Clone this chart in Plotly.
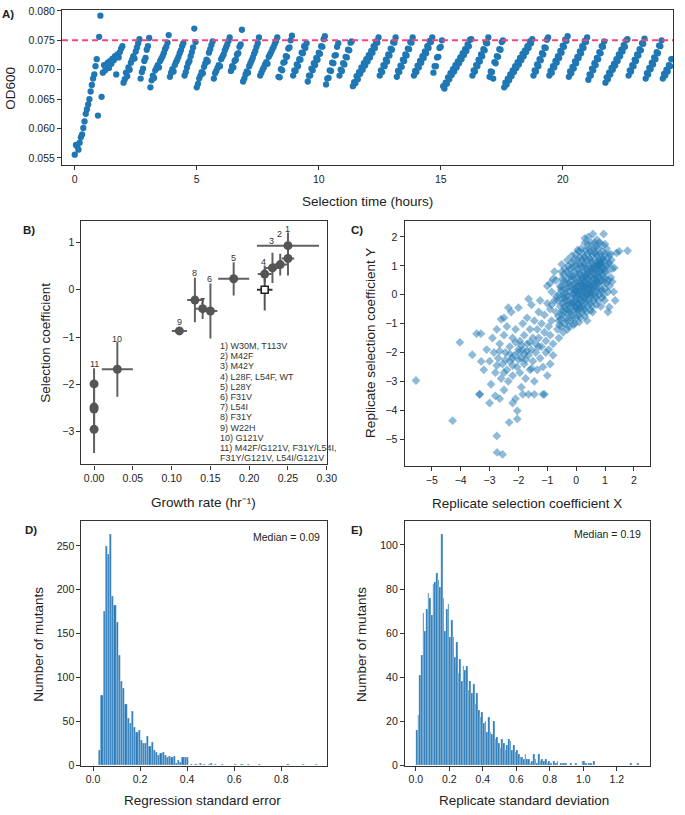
import numpy as np
import plotly.graph_objects as go

W, H = 685, 815
FONT = "Liberation Sans, Arial, Helvetica, sans-serif"

# ---------------- Panel A: OD600 over selection time ----------------
SAMPLE_INTERVAL_H = 0.05
OD_THRESHOLD = 0.075
# OD600 readings in units of 1e-5
od600_e5 = [
    5555, 5720, 5700, 5640, 5760, 5850, 5900, 6010, 6120, 6250, 6330, 6410, 6500, 6630, 6740, 6850, 6920, 7060, 7180, 6220, 7560, 7920, 6540,
    6950, 7080, 6990, 7050, 7120, 7030, 7150, 7100, 7190, 7160, 7230, 6920, 7260, 7210, 7300, 7360, 7400,
    6780, 6840, 6950, 6890, 7040, 7000, 7120, 7170, 7230, 7190, 7310, 7380, 7450, 7520,
    6850, 6960, 7020, 7150, 7200, 7340, 7400, 7540,
    6700, 6820, 6900, 6860, 6990, 7030, 7080, 7040, 7150, 7190, 7230, 7280, 7350, 7390, 7460, 7590,
    6880, 6950, 7010, 6970, 7080, 7130, 7170, 7220, 7280, 7330, 7400, 7450,
    6900, 6960, 7040, 7110, 7150, 7230, 7300, 7380, 7700, 7470,
    6700, 6760, 6850, 6900, 6960, 6940, 7050, 7110, 7170, 7140, 7290, 7350, 7420, 7480,
    6850, 6940, 6980, 7030, 7080, 7060, 7180, 7220, 7260, 7330, 7380, 7430, 7490, 7550,
    6980, 7060, 7040, 7150, 7170, 7260, 7280, 7390, 7430, 7680,
    6800, 6850, 6920, 6970, 6950, 7060, 7110, 7160, 7210, 7270, 7320, 7390, 7450, 7550,
    6900, 6950, 7000, 7040, 7090, 7130, 7100, 7220, 7260, 7300, 7350, 7390, 7440, 7490, 7550,
    6880, 6870, 7010, 6990, 7120, 7130, 7230, 7220, 7360, 7380, 7500, 7580,
    6900, 6990, 6980, 7090, 7060, 7180, 7170, 7290, 7280, 7400, 7370, 7450,
    6800, 6900, 6900, 7020, 6990, 7110, 7080, 7200, 7170, 7290, 7270, 7400, 7390, 7520, 7570,
    6750, 6850, 6860, 6990, 6980, 7120, 7110, 7240, 7250, 7390, 7450,
    6900, 7000, 6980, 7110, 7090, 7220, 7210, 7340, 7330, 7460, 7480,
    6720, 6790, 6770, 6890, 6840, 6960, 6930, 7040, 7000, 7110, 7070, 7180, 7140, 7250, 7210, 7320, 7290, 7400, 7370, 7480, 7460, 7550,
    6900, 6990, 6960, 7080, 7060, 7170, 7140, 7260, 7240, 7360, 7340, 7470, 7460, 7550,
    6880, 6980, 6960, 7070, 7050, 7170, 7150, 7260, 7240, 7360, 7350, 7470, 7460, 7550,
    6900, 6980, 6960, 7070, 7040, 7150, 7120, 7230, 7200, 7310, 7280, 7400, 7370, 7490, 7470, 7550,
    6950, 7060, 7060, 7210, 7220, 7370, 7390, 7500,
    6720, 6680, 6780, 6760, 6870, 6840, 6940, 6910, 7010, 6970, 7080, 7040, 7140, 7110, 7210, 7180, 7280, 7250, 7350, 7320, 7430, 7400, 7510, 7520,
    6900, 6990, 6970, 7080, 7060, 7170, 7140, 7260, 7230, 7350, 7330, 7460, 7450, 7550,
    6880, 6970, 6960, 6850, 7130, 7110, 7230, 7220, 7350, 7340, 7470, 7500,
    6700, 6780, 6750, 6850, 6820, 6920, 6890, 6990, 6960, 7060, 7030, 7130, 7090, 7200, 7160, 7270, 7230, 7330, 7300, 7400, 7370, 7480, 7450, 7520,
    6900, 6990, 6970, 7090, 7060, 7180, 7160, 7280, 7260, 7380, 7370, 7510, 7550,
    6900, 6980, 6950, 7060, 7040, 7150, 7120, 7230, 7200, 7320, 7290, 7410, 7390, 7510, 7490, 7570,
    6880, 6970, 6940, 7050, 7020, 7140, 7110, 7220, 7200, 7310, 7280, 7400, 7370, 7490, 7470, 7550,
    6830, 6920, 6900, 7020, 6990, 7110, 7080, 7200, 7180, 7300, 7280, 7400, 7390, 7480,
    6780, 6870, 6840, 6950, 6920, 7030, 7000, 7100, 7070, 7180, 7150, 7260, 7230, 7340, 7310, 7420, 7390, 7500, 7520,
    6900, 6990, 6970, 7080, 7060, 7170, 7150, 7260, 7240, 7350, 7330, 7450, 7440, 7530,
    6850, 6940, 6920, 7030, 7010, 7120, 7090, 7210, 7180, 7300, 7280, 7410, 7400, 7500,
    6850, 6930, 6900, 7000, 6970, 7080, 7060, 7180, 7180,
]

# ---------------- Panel B: selection coefficient vs growth rate ----------------
growth_rate     = [0.25, 0.25, 0.24, 0.23, 0.22, 0.18, 0.15, 0.14, 0.13, 0.11, 0.03, 0.0, 0.0, 0.0, 0.0]
growth_rate_err = [0.04, 0.008, 0.009, 0.009, 0.009, 0.02, 0.009, 0.01, 0.01, 0.0097, 0.02, 0.002, 0.002, 0.002, 0.002]
sel_coef        = [0.93, 0.66, 0.53, 0.46, 0.33, 0.23, -0.45, -0.40, -0.22, -0.87, -1.68, -1.99, -2.48, -2.52, -2.95]
sel_coef_err    = [0.28, 0.36, 0.23, 0.32, 0.18, 0.35, 0.58, 0.22, 0.47, 0.07, 0.58, 0.33, 0.40, 0.40, 0.50]
wt_growth, wt_growth_err = [0.22], [0.01]
wt_sel, wt_sel_err = [0.0], [0.44]
point_labels = ["1", "2", "3", "4", "5", "6", "7", "8", "9", "10", "11"]
label_x = [0.249, 0.239, 0.229, 0.219, 0.18, 0.149, 0.14, 0.13, 0.11, 0.03, 0.0]
label_y = [1.28, 1.18, 1.03, 0.59, 0.66, 0.23, -0.24, 0.35, -0.68, -1.04, -1.56]
legend_lines = [
    "1) W30M, T113V", "2) M42F", "3) M42Y", "4) L28F, L54F, WT", "5) L28Y", "6) F31V",
    "7) L54I", "8) F31Y", "9) W22H", "10) G121V", "11) M42F/G121V, F31Y/L54I,",
    "F31Y/G121V, L54I/G121V",
]

# ---------------- Panel C: replicate selection coefficients ----------------
replicate_xy = [
    # outliers
    (-5.55, -2.97), (-4.28, -4.36), (-4.03, -1.65), (-2.75, -4.89), (-2.74, -5.46), (-2.55, -5.53),
    (-2.04, -4.02), (-2.04, -4.3), (-2.32, -4.42), (-3.34, -3.45), (-3.6, -2.08), (-3.45, -1.35), (-3.29, -2.31),
    # lower-left wing
    (-3.2, -2.6), (-3.1, -1.9), (-3.0, -2.3), (-2.95, -3.1), (-2.9, -1.5), (-2.85, -2.0), (-2.8, -2.7), (-2.8, -3.5), (-2.75, -1.2), (-2.7, -2.2),
    (-2.65, -1.7), (-2.6, -2.9), (-2.6, -0.85), (-2.55, -2.4), (-2.5, -1.4), (-2.5, -3.3), (-2.45, -2.0), (-2.4, -2.6), (-2.4, -1.1), (-2.35, -3.0),
    (-2.3, -1.8), (-2.3, -2.3), (-2.25, -0.6), (-2.2, -2.8), (-2.2, -1.5), (-2.15, -2.1), (-2.1, -3.6), (-2.1, -1.2), (-2.05, -2.5), (-2.0, -1.9),
    (-2.0, -0.45), (-1.95, -2.7), (-1.95, -1.6), (-1.9, -2.2), (-1.9, -3.2), (-1.85, -1.0), (-1.85, -1.9), (-1.8, -2.4), (-1.8, -1.4), (-1.75, -2.9),
    (-1.7, -0.8), (-1.7, -1.7), (-1.65, -2.1), (-1.65, -3.45), (-1.6, -1.2), (-1.6, -2.6), (-1.55, -0.35), (-1.55, -1.9), (-1.5, -1.5), (-1.5, -2.3),
    (-1.45, -0.9), (-1.45, -3.0), (-1.4, -1.7), (-1.4, -2.0), (-1.35, -1.2), (-1.35, -2.6), (-1.3, -0.6), (-1.3, -1.5), (-1.25, -2.2), (-1.25, -0.2),
    (-1.2, -1.0), (-1.2, -1.8), (-1.15, -3.45), (-1.15, -2.5), (-1.1, -1.3), (-1.1, -0.7), (-1.05, -2.0), (-1.05, -1.6), (-1.0, -0.3), (-1.0, -2.8),
    (-0.95, -1.1), (-0.95, -1.9), (-0.9, -0.5), (-0.9, -1.4), (-0.9, -2.4), (-0.85, 0.1), (-0.85, -0.9), (-0.8, -1.7), (-0.8, -2.1), (-0.75, -0.2),
    (-3.3, -1.35), (-3.35, -3.45), (-3.0, -3.75), (-2.65, -3.6), (-2.2, -3.75), (-1.85, -3.45), (-1.45, -3.45), (-1.1, -3.45), (-2.5, -0.8),
    (-2.35, -0.45), (-1.65, -0.15), (-2.75, -2.45), (-2.5, -2.7), (-2.2, -2.45), (-2.0, -2.25), (-1.75, -2.25), (-1.55, -2.55), (-2.65, -1.95),
    (-2.3, -2.05), (-2.1, -1.65), (-1.9, -1.75), (-2.0, -2.0), (-1.8, -2.05), (-1.6, -1.65), (-2.45, -2.25), (-2.2, -2.2), (-1.7, -1.95), (-1.3, -1.8),
    # dense core
    (-0.65, -1.2), (-0.6, -0.9), (-0.7, -0.6), (-0.55, -0.4), (-0.65, -0.2), (-0.6, 0.0), (-0.55, 0.3), (-0.7, 0.5), (-0.6, -1.5), (-0.5, -0.7),
    (-0.68, -0.05), (-0.52, 0.15), (-0.62, -0.75), (-0.58, -1.05),
    (-0.45, -1.3), (-0.4, -1.0), (-0.35, -0.8), (-0.45, -0.6), (-0.4, -0.4), (-0.35, -0.2), (-0.45, 0.0), (-0.4, 0.2), (-0.35, 0.4), (-0.45, 0.7),
    (-0.38, 0.9), (-0.42, -0.1), (-0.33, -0.5), (-0.48, -0.3), (-0.36, 0.05), (-0.44, 0.45),
    (-0.25, -1.1), (-0.2, -0.9), (-0.15, -0.7), (-0.25, -0.5), (-0.2, -0.3), (-0.15, -0.1), (-0.25, 0.1), (-0.2, 0.3), (-0.15, 0.5), (-0.25, 0.7),
    (-0.2, 0.9), (-0.15, 1.1), (-0.28, -0.2), (-0.12, 0.2), (-0.22, -0.6), (-0.18, 0.65), (-0.26, 0.4), (-0.14, -0.35),
    (-0.05, -1.0), (0.0, -0.8), (0.05, -0.6), (-0.05, -0.4), (0.0, -0.2), (0.05, 0.0), (-0.05, 0.2), (0.0, 0.4), (0.05, 0.6), (-0.05, 0.8),
    (0.0, 1.0), (0.05, 1.2), (-0.02, 1.4), (0.08, -0.3), (-0.08, 0.05), (0.03, 0.3), (-0.06, 0.55), (0.07, 0.85), (0.02, -0.5), (-0.03, 0.15),
    (0.15, -0.8), (0.2, -0.6), (0.25, -0.4), (0.15, -0.2), (0.2, 0.0), (0.25, 0.2), (0.15, 0.4), (0.2, 0.6), (0.25, 0.8), (0.15, 1.0),
    (0.2, 1.2), (0.25, 1.4), (0.18, 1.6), (0.28, -0.1), (0.12, 0.1), (0.22, 0.3), (0.27, 0.5), (0.13, 0.7), (0.23, 0.95), (0.17, -0.45), (0.28, 1.1),
    (0.35, -0.6), (0.4, -0.4), (0.45, -0.2), (0.35, 0.0), (0.4, 0.2), (0.45, 0.4), (0.35, 0.6), (0.4, 0.8), (0.45, 1.0), (0.35, 1.2),
    (0.4, 1.4), (0.45, 1.6), (0.42, 2.0), (0.38, -0.9), (0.48, 0.1), (0.32, 0.3), (0.43, 0.55), (0.37, 0.9), (0.47, 1.25), (0.33, -0.25), (0.41, 1.75),
    (0.55, -0.4), (0.6, -0.2), (0.65, 0.0), (0.55, 0.2), (0.6, 0.4), (0.65, 0.6), (0.55, 0.8), (0.6, 1.0), (0.65, 1.2), (0.55, 1.4),
    (0.6, 1.6), (0.65, 1.8), (0.58, 2.1), (0.68, 0.3), (0.52, 0.05), (0.62, 0.7), (0.67, 0.95), (0.53, 1.1), (0.63, 1.45), (0.57, -0.6),
    (0.75, -0.2), (0.8, 0.0), (0.85, 0.2), (0.75, 0.4), (0.8, 0.6), (0.85, 0.8), (0.75, 1.0), (0.8, 1.2), (0.85, 1.4), (0.75, 1.6),
    (0.8, 1.8), (0.85, -0.4), (0.72, 0.1), (0.88, 0.5), (0.78, 0.75), (0.82, 1.05), (0.73, 1.35), (0.87, 1.1), (0.95, 2.1),
    (0.95, 0.0), (1.0, 0.2), (1.05, 0.4), (0.95, 0.6), (1.0, 0.8), (1.05, 1.0), (0.95, 1.2), (1.0, 1.4), (1.05, 1.6), (0.98, -0.2),
    (1.02, 0.55), (0.97, 0.9), (1.08, 1.25), (1.1, -0.6), (1.0, 1.75),
    (1.15, 0.3), (1.2, 0.6), (1.25, 0.9), (1.15, 1.1), (1.2, 1.4), (1.3, 0.1), (1.32, 0.93), (1.15, -0.43), (1.49, 1.5), (1.78, 1.52),
    (1.4, 1.45), (1.25, 0.45), (1.22, 1.2), (1.35, -0.2),
    (-0.9, 0.4), (-0.8, 0.55), (-1.0, 0.3), (-0.75, 0.8), (-0.5, 1.05), (-0.3, 1.2), (-0.15, 1.35), (0.05, 1.55), (0.3, 1.8), (-0.85, -0.35),
    (-0.5, -1.1), (-0.52, -0.85), (-0.48, -0.55), (-0.5, -0.15), (-0.53, 0.25), (-0.47, 0.55), (-0.5, 0.8),
    (-0.3, -1.2), (-0.32, -0.9), (-0.28, -0.65), (-0.3, -0.35), (-0.31, -0.05), (-0.29, 0.25), (-0.3, 0.55), (-0.32, 0.8), (-0.27, 1.0),
    (-0.1, -1.05), (-0.12, -0.8), (-0.08, -0.55), (-0.1, -0.25), (-0.11, 0.0), (-0.09, 0.35), (-0.1, 0.65), (-0.12, 0.95), (-0.08, 1.2),
    (0.1, -0.95), (0.08, -0.7), (0.12, -0.45), (0.1, -0.15), (0.09, 0.2), (0.11, 0.45), (0.1, 0.75), (0.08, 1.05), (0.12, 1.3), (0.1, 1.5),
    (0.3, -0.75), (0.28, -0.5), (0.32, -0.15), (0.3, 0.1), (0.29, 0.4), (0.31, 0.7), (0.3, 1.0), (0.28, 1.3), (0.32, 1.55), (0.3, 1.95),
    (0.5, -0.55), (0.48, -0.3), (0.52, -0.05), (0.5, 0.3), (0.49, 0.65), (0.51, 0.9), (0.5, 1.2), (0.48, 1.5), (0.52, 1.8), (0.5, 0.0),
    (0.7, -0.35), (0.68, -0.1), (0.72, 0.2), (0.7, 0.5), (0.69, 0.85), (0.71, 1.1), (0.7, 1.4), (0.68, 1.65), (0.72, 1.9),
    (0.9, -0.1), (0.88, 0.15), (0.92, 0.4), (0.9, 0.7), (0.89, 0.95), (0.91, 1.25), (0.9, 1.5), (0.88, 1.75),
    (1.1, 0.1), (1.12, 0.5), (1.08, 0.8), (1.1, 1.05), (1.12, 1.4),
    (0.0, 0.1), (0.1, 0.3), (0.2, 0.5), (0.3, 0.6), (0.4, 0.7), (0.5, 0.8), (0.6, 0.9), (0.7, 1.0), (0.8, 1.1), (0.9, 1.2),
    (0.0, -0.1), (0.1, 0.0), (0.2, 0.15), (0.3, 0.25), (0.4, 0.35), (0.5, 0.45), (0.6, 0.55), (0.7, 0.65), (0.8, 0.85), (0.9, 0.95),
    (-0.1, -0.3), (0.0, -0.45), (0.1, -0.35), (0.2, -0.25), (0.3, -0.05), (0.4, 0.05), (0.5, 0.2), (0.6, 0.25), (0.7, 0.4), (0.8, 0.45),
]

# ---------------- Panel D: regression standard error histogram ----------------
D_BIN_START, D_BIN_WIDTH = 0.024, 0.0093
reg_se_counts = [
    18, 80, 176, 250, 241, 263, 193, 182, 163, 126,
    96, 88, 70, 54, 48, 62, 44, 38, 40, 29,
    25, 26, 33, 22, 27, 18, 15, 12, 14, 15,
    12, 10, 11, 10, 11, 3, 6, 4, 9, 10,
    10, 0, 2, 0, 2, 0, 3, 0, 2, 0,
    1, 3, 0, 1, 0, 0, 2, 0, 0, 0,
    0, 0, 1, 0, 0, 1, 0, 0, 1, 0,
    0, 0, 0, 1, 0, 0, 0, 0, 0, 0,
    0, 0, 0, 0, 0, 0, 1, 0, 0, 0,
    0, 0, 0, 1, 0, 0, 0, 0, 0, 1,
]
D_MEDIAN_TEXT = "Median = 0.09"

# ---------------- Panel E: replicate standard deviation histogram ----------------
E_BIN_START, E_BIN_WIDTH = 0.0, 0.01
rep_sd_counts = [
    16, 23, 41, 50, 69, 61, 71, 78, 76, 68,
    82, 83, 87, 84, 81, 105, 76, 61, 71, 73,
    58, 66, 58, 49, 56, 42, 48, 38, 45, 43,
    45, 34, 38, 33, 37, 28, 33, 25, 22, 24,
    19, 20, 15, 22, 15, 14, 20, 12, 13, 10,
    8, 12, 10, 7, 9, 12, 11, 7, 9, 6,
    7, 5, 4, 4, 3, 5, 3, 3, 1, 2,
    5, 3, 1, 5, 2, 3, 2, 3, 1, 2,
    1, 0, 2, 1, 2, 0, 1, 1, 1, 1,
    0, 0, 1, 0, 0, 1, 0, 0, 0, 2,
    2, 1, 0, 1, 1, 0, 2, 0, 0, 0,
    0, 0, 0, 0, 0, 0, 0, 0, 0, 0,
    0, 0, 0, 0, 0, 0, 0, 0, 1, 0,
    0, 0, 1,
]
E_MEDIAN_TEXT = "Median = 0.19"

# ======================================================================
def xd(a, b):
    return [a / W, b / W]

def yd(top, bottom):
    return [1 - bottom / H, 1 - top / H]

def px(x):
    return x / W

def py(y):
    return 1 - y / H

BLUE = "#1f77b4"
fig = go.Figure()

# A
od = np.array(od600_e5) / 1e5
t = np.arange(len(od)) * SAMPLE_INTERVAL_H
fig.add_trace(go.Scatter(x=t, y=od, mode="markers", xaxis="x", yaxis="y",
                         marker=dict(color=BLUE, size=6.3, line=dict(width=0)), showlegend=False))

# B
fig.add_trace(go.Scatter(
    x=growth_rate, y=sel_coef, mode="markers", xaxis="x2", yaxis="y2",
    error_x=dict(type="data", array=growth_rate_err, color="#616161", thickness=2, width=0),
    error_y=dict(type="data", array=sel_coef_err, color="#616161", thickness=2, width=0),
    marker=dict(color="#555555", size=9), showlegend=False))
fig.add_trace(go.Scatter(
    x=wt_growth, y=wt_sel, mode="markers", xaxis="x2", yaxis="y2",
    error_x=dict(type="data", array=wt_growth_err, color="#333333", thickness=2, width=0),
    error_y=dict(type="data", array=wt_sel_err, color="#555555", thickness=2, width=0),
    marker=dict(color="white", size=7, symbol="square", line=dict(color="#222222", width=1.6)),
    showlegend=False))

# C
cx = [p[0] for p in replicate_xy]
cy = [p[1] for p in replicate_xy]
fig.add_trace(go.Scatter(x=cx, y=cy, mode="markers", xaxis="x3", yaxis="y3",
                         marker=dict(color="rgba(31,119,180,0.5)", size=6.8, symbol="diamond", line=dict(width=0)),
                         showlegend=False))

# D
d_centers = D_BIN_START + (np.arange(len(reg_se_counts)) + 0.5) * D_BIN_WIDTH
fig.add_trace(go.Bar(x=d_centers, y=reg_se_counts, width=D_BIN_WIDTH, xaxis="x4", yaxis="y4",
                     marker=dict(color="#2a7ab9", line=dict(color="rgba(255,255,255,0.7)", width=0.4)),
                     showlegend=False))
# E
e_centers = E_BIN_START + (np.arange(len(rep_sd_counts)) + 0.5) * E_BIN_WIDTH
fig.add_trace(go.Bar(x=e_centers, y=rep_sd_counts, width=E_BIN_WIDTH, xaxis="x5", yaxis="y5",
                     marker=dict(color="#2a7ab9", line=dict(color="rgba(255,255,255,0.7)", width=0.3)),
                     showlegend=False))

axis_common = dict(showline=True, linecolor="#333333", linewidth=1.3, mirror=True,
                   ticks="outside", ticklen=4, tickwidth=1.2, tickcolor="#333333",
                   showgrid=False, zeroline=False, ticklabeloverflow="allow",
                   tickfont=dict(family=FONT, size=10.5, color="#222222"))

fig.update_layout(
    width=W, height=H, margin=dict(l=0, r=0, t=0, b=0),
    paper_bgcolor="white", plot_bgcolor="white", bargap=0,
    font=dict(family=FONT, size=12, color="#222222"),
    xaxis=dict(domain=xd(63, 683), range=[-0.52, 24.52], tickvals=[0, 5, 10, 15, 20], anchor="y", **axis_common),
    yaxis=dict(domain=yd(5, 162), range=[0.05383, 0.08017], tickvals=[0.055, 0.060, 0.065, 0.070, 0.075, 0.080],
               tickformat=".3f", anchor="x", **axis_common),
    xaxis2=dict(domain=xd(82.7, 332), range=[-0.0162, 0.3005], tickvals=[0, 0.05, 0.1, 0.15, 0.2, 0.25, 0.3],
                tickformat=".2f", anchor="y2", **axis_common),
    yaxis2=dict(domain=yd(219, 465.7), range=[-3.69, 1.45], tickvals=[-3, -2, -1, 0, 1], anchor="x2", **axis_common),
    xaxis3=dict(domain=xd(410.7, 660), range=[-5.94, 2.57], tickvals=[-5, -4, -3, -2, -1, 0, 1, 2], anchor="y3", **axis_common),
    yaxis3=dict(domain=yd(219, 467.3), range=[-5.93, 2.55], tickvals=[-5, -4, -3, -2, -1, 0, 1, 2], anchor="x3", **axis_common),
    xaxis4=dict(domain=xd(82.7, 331.7), range=[-0.049, 0.994], tickvals=[0, 0.2, 0.4, 0.6, 0.8], tickformat=".1f",
                anchor="y4", **axis_common),
    yaxis4=dict(domain=yd(523.3, 771), range=[0, 278], tickvals=[0, 50, 100, 150, 200, 250], anchor="x4", **axis_common),
    xaxis5=dict(domain=xd(411, 659.3), range=[-0.065, 1.396], tickvals=[0, 0.2, 0.4, 0.6, 0.8, 1.0, 1.2],
                tickformat=".1f", anchor="y5", **axis_common),
    yaxis5=dict(domain=yd(523.3, 771), range=[0, 110.7], tickvals=[0, 20, 40, 60, 80, 100], anchor="x5", **axis_common),
)

# threshold line in A
fig.add_shape(type="line", xref="x domain", yref="y", x0=0, x1=1, y0=OD_THRESHOLD, y1=OD_THRESHOLD,
              line=dict(color="#f2437c", width=2, dash="6px,4px"), layer="above")

ann = []
def text(xp, yp, s, size=13.5, angle=0, xanchor="center", bold=False, color="#222222"):
    ann.append(dict(x=px(xp), y=py(yp), xref="paper", yref="paper", text=("<b>%s</b>" % s if bold else s),
                    showarrow=False, textangle=angle, xanchor=xanchor, yanchor="middle",
                    font=dict(family=FONT, size=size, color=color)))

# panel letters
text(8, 9, "A)", size=11.5, bold=True)
text(29, 228, "B)", size=11.5, bold=True)
text(362, 228, "C)", size=11.5, bold=True)
text(31, 532, "D)", size=11.5, bold=True)
text(362, 532, "E)", size=11.5, bold=True)

# axis titles
text(373, 199, "Selection time (hours)")
text(11, 84, "OD600", angle=-90)
text(207, 504, "Growth rate (hr\u207b\u00b9)")
text(46, 342, "Selection coefficient", angle=-90)
text(535, 505, "Replicate selection coefficient X")
text(376, 343, "Replicate selection coefficient Y", angle=-90)
text(205, 806, "Regression standard error")
text(39, 648, "Number of mutants", angle=-90)
text(532, 806, "Replicate standard deviation")
text(367, 648, "Number of mutants", angle=-90)

# medians
text(327, 539, D_MEDIAN_TEXT, size=10.5, xanchor="right")
text(653, 536, E_MEDIAN_TEXT, size=10.5, xanchor="right")

# legend text in B
for k, line in enumerate(legend_lines):
    text(221, 345.7 + 10.33 * k, line, size=9, xanchor="left", color="#333333")

# point labels in B
for lab, lx, ly in zip(point_labels, label_x, label_y):
    ann.append(dict(x=lx, y=ly, xref="x2", yref="y2", text=lab, showarrow=False,
                    xanchor="center", yanchor="middle", font=dict(family=FONT, size=9, color="#333333")))

fig.update_layout(annotations=ann)
fig.write_html("out.html", config={"displayModeBar": False},
               post_script="document.body.style.margin='0';document.body.style.padding='0';")
